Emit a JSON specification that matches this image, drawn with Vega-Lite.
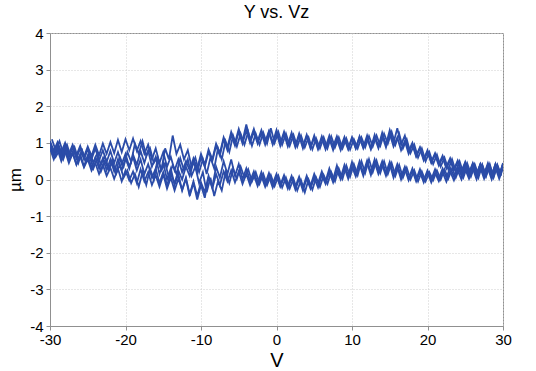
{
  "$schema": "https://vega.github.io/schema/vega-lite/v6.json",
  "width": 453,
  "height": 293,
  "autosize": "none",
  "padding": {"left": 50, "top": 33, "right": 33, "bottom": 45},
  "background": "white",
  "title": {"text": "Y vs. Vz", "fontSize": 18, "fontWeight": "normal", "font": "Liberation Sans", "color": "black", "offset": 4},
  "config": {
    "view": {"stroke": "#909090", "strokeWidth": 1},
    "axis": {
      "labelFont": "Liberation Sans", "labelFontSize": 15, "labelColor": "black",
      "labelExpr": "replace(datum.label, '\u2212', '-')",
      "titleFont": "Liberation Sans", "titleColor": "black", "titleFontWeight": "normal",
      "gridColor": "#cfcfcf", "gridDash": [1, 2], "gridWidth": 1,
      "domainColor": "#909090", "tickColor": "#909090", "tickSize": 4
    }
  },
  "data": {"values": [
{"s":"a","x":-30,"y":0.92},{"s":"a","x":-29.5,"y":0.66},{"s":"a","x":-29,"y":0.88},{"s":"a","x":-28.5,"y":0.60},{"s":"a","x":-28,"y":0.80},{"s":"a","x":-27.5,"y":0.52},{"s":"a","x":-27,"y":0.74},{"s":"a","x":-26.5,"y":0.42},{"s":"a","x":-26,"y":0.62},{"s":"a","x":-25.5,"y":0.33},{"s":"a","x":-25,"y":0.55},{"s":"a","x":-24.5,"y":0.24},{"s":"a","x":-24,"y":0.45},{"s":"a","x":-23.5,"y":0.15},{"s":"a","x":-23,"y":0.40},{"s":"a","x":-22.5,"y":0.10},{"s":"a","x":-22,"y":0.32},{"s":"a","x":-21.5,"y":0.02},{"s":"a","x":-21,"y":0.30},{"s":"a","x":-20.5,"y":-0.05},{"s":"a","x":-20,"y":0.25},{"s":"a","x":-19.5,"y":-0.02},{"s":"a","x":-19,"y":0.22},{"s":"a","x":-18.5,"y":-0.10},{"s":"a","x":-18,"y":0.28},{"s":"a","x":-17.5,"y":-0.05},{"s":"a","x":-17,"y":0.20},{"s":"a","x":-16.5,"y":-0.15},{"s":"a","x":-16,"y":0.12},{"s":"a","x":-15.5,"y":-0.20},{"s":"a","x":-15,"y":0.14},{"s":"a","x":-14.5,"y":-0.25},{"s":"a","x":-14,"y":0.05},{"s":"a","x":-13.5,"y":-0.30},{"s":"a","x":-13,"y":0.02},{"s":"a","x":-12.5,"y":-0.28},{"s":"a","x":-12,"y":0.05},{"s":"a","x":-11.5,"y":-0.40},{"s":"a","x":-11,"y":-0.05},{"s":"a","x":-10.5,"y":-0.45},{"s":"a","x":-10,"y":-0.08},{"s":"a","x":-9.5,"y":-0.35},{"s":"a","x":-9,"y":0.10},{"s":"a","x":-8.5,"y":-0.25},{"s":"a","x":-8,"y":0.15},{"s":"a","x":-7.5,"y":-0.15},{"s":"a","x":-7,"y":0.22},{"s":"a","x":-6.5,"y":-0.05},{"s":"a","x":-6,"y":0.25},{"s":"a","x":-5.5,"y":-0.08},{"s":"a","x":-5,"y":0.22},{"s":"a","x":-4.5,"y":-0.12},{"s":"a","x":-4,"y":0.15},{"s":"a","x":-3.5,"y":-0.15},{"s":"a","x":-3,"y":0.12},{"s":"a","x":-2.5,"y":-0.18},{"s":"a","x":-2,"y":0.10},{"s":"a","x":-1.5,"y":-0.20},{"s":"a","x":-1,"y":0.08},{"s":"a","x":-0.5,"y":-0.22},{"s":"a","x":0,"y":0.10},{"s":"a","x":0.5,"y":-0.20},{"s":"a","x":1,"y":0.05},{"s":"a","x":1.5,"y":-0.25},{"s":"a","x":2,"y":0.04},{"s":"a","x":2.5,"y":-0.28},{"s":"a","x":3,"y":0.02},{"s":"a","x":3.5,"y":-0.30},{"s":"a","x":4,"y":0.02},{"s":"a","x":4.5,"y":-0.25},{"s":"a","x":5,"y":0.05},{"s":"a","x":5.5,"y":-0.22},{"s":"a","x":6,"y":0.12},{"s":"a","x":6.5,"y":-0.12},{"s":"a","x":7,"y":0.20},{"s":"a","x":7.5,"y":-0.08},{"s":"a","x":8,"y":0.25},{"s":"a","x":8.5,"y":0.00},{"s":"a","x":9,"y":0.32},{"s":"a","x":9.5,"y":0.02},{"s":"a","x":10,"y":0.35},{"s":"a","x":10.5,"y":0.08},{"s":"a","x":11,"y":0.42},{"s":"a","x":11.5,"y":0.10},{"s":"a","x":12,"y":0.45},{"s":"a","x":12.5,"y":0.12},{"s":"a","x":13,"y":0.48},{"s":"a","x":13.5,"y":0.15},{"s":"a","x":14,"y":0.40},{"s":"a","x":14.5,"y":0.10},{"s":"a","x":15,"y":0.42},{"s":"a","x":15.5,"y":0.05},{"s":"a","x":16,"y":0.35},{"s":"a","x":16.5,"y":0.00},{"s":"a","x":17,"y":0.30},{"s":"a","x":17.5,"y":-0.02},{"s":"a","x":18,"y":0.25},{"s":"a","x":18.5,"y":-0.05},{"s":"a","x":19,"y":0.20},{"s":"a","x":19.5,"y":-0.08},{"s":"a","x":20,"y":0.20},{"s":"a","x":20.5,"y":-0.08},{"s":"a","x":21,"y":0.18},{"s":"a","x":21.5,"y":-0.05},{"s":"a","x":22,"y":0.20},{"s":"a","x":22.5,"y":-0.06},{"s":"a","x":23,"y":0.22},{"s":"a","x":23.5,"y":-0.02},{"s":"a","x":24,"y":0.25},{"s":"a","x":24.5,"y":0.00},{"s":"a","x":25,"y":0.28},{"s":"a","x":25.5,"y":0.02},{"s":"a","x":26,"y":0.30},{"s":"a","x":26.5,"y":0.00},{"s":"a","x":27,"y":0.32},{"s":"a","x":27.5,"y":0.02},{"s":"a","x":28,"y":0.30},{"s":"a","x":28.5,"y":0.00},{"s":"a","x":29,"y":0.32},{"s":"a","x":29.5,"y":0.02},{"s":"a","x":30,"y":0.30},
{"s":"b","x":-30,"y":1.05},{"s":"b","x":-29.5,"y":0.78},{"s":"b","x":-29,"y":1.02},{"s":"b","x":-28.5,"y":0.75},{"s":"b","x":-28,"y":1.00},{"s":"b","x":-27.5,"y":0.70},{"s":"b","x":-27,"y":0.95},{"s":"b","x":-26.5,"y":0.66},{"s":"b","x":-26,"y":0.92},{"s":"b","x":-25.5,"y":0.62},{"s":"b","x":-25,"y":0.90},{"s":"b","x":-24.5,"y":0.64},{"s":"b","x":-24,"y":0.95},{"s":"b","x":-23.5,"y":0.66},{"s":"b","x":-23,"y":0.98},{"s":"b","x":-22.5,"y":0.70},{"s":"b","x":-22,"y":1.02},{"s":"b","x":-21.5,"y":0.72},{"s":"b","x":-21,"y":1.08},{"s":"b","x":-20.5,"y":0.75},{"s":"b","x":-20,"y":1.10},{"s":"b","x":-19.5,"y":0.80},{"s":"b","x":-19,"y":1.12},{"s":"b","x":-18.5,"y":0.78},{"s":"b","x":-18,"y":1.05},{"s":"b","x":-17.5,"y":0.70},{"s":"b","x":-17,"y":0.95},{"s":"b","x":-16.5,"y":0.55},{"s":"b","x":-16,"y":0.85},{"s":"b","x":-15.5,"y":0.45},{"s":"b","x":-15,"y":0.75},{"s":"b","x":-14.5,"y":0.35},{"s":"b","x":-14,"y":0.62},{"s":"b","x":-13.5,"y":0.25},{"s":"b","x":-13,"y":0.55},{"s":"b","x":-12.5,"y":0.20},{"s":"b","x":-12,"y":0.50},{"s":"b","x":-11.5,"y":0.25},{"s":"b","x":-11,"y":0.58},{"s":"b","x":-10.5,"y":0.30},{"s":"b","x":-10,"y":0.70},{"s":"b","x":-9.5,"y":0.40},{"s":"b","x":-9,"y":0.82},{"s":"b","x":-8.5,"y":0.55},{"s":"b","x":-8,"y":0.98},{"s":"b","x":-7.5,"y":0.72},{"s":"b","x":-7,"y":1.15},{"s":"b","x":-6.5,"y":0.88},{"s":"b","x":-6,"y":1.30},{"s":"b","x":-5.5,"y":1.00},{"s":"b","x":-5,"y":1.38},{"s":"b","x":-4.5,"y":1.05},{"s":"b","x":-4,"y":1.50},{"s":"b","x":-3.5,"y":1.08},{"s":"b","x":-3,"y":1.38},{"s":"b","x":-2.5,"y":1.05},{"s":"b","x":-2,"y":1.35},{"s":"b","x":-1.5,"y":1.02},{"s":"b","x":-1,"y":1.32},{"s":"b","x":-0.5,"y":1.00},{"s":"b","x":0,"y":1.35},{"s":"b","x":0.5,"y":0.98},{"s":"b","x":1,"y":1.30},{"s":"b","x":1.5,"y":0.95},{"s":"b","x":2,"y":1.28},{"s":"b","x":2.5,"y":0.92},{"s":"b","x":3,"y":1.25},{"s":"b","x":3.5,"y":0.90},{"s":"b","x":4,"y":1.22},{"s":"b","x":4.5,"y":0.88},{"s":"b","x":5,"y":1.20},{"s":"b","x":5.5,"y":0.86},{"s":"b","x":6,"y":1.18},{"s":"b","x":6.5,"y":0.88},{"s":"b","x":7,"y":1.20},{"s":"b","x":7.5,"y":0.90},{"s":"b","x":8,"y":1.18},{"s":"b","x":8.5,"y":0.88},{"s":"b","x":9,"y":1.16},{"s":"b","x":9.5,"y":0.85},{"s":"b","x":10,"y":1.15},{"s":"b","x":10.5,"y":0.85},{"s":"b","x":11,"y":1.18},{"s":"b","x":11.5,"y":0.88},{"s":"b","x":12,"y":1.20},{"s":"b","x":12.5,"y":0.86},{"s":"b","x":13,"y":1.22},{"s":"b","x":13.5,"y":0.90},{"s":"b","x":14,"y":1.28},{"s":"b","x":14.5,"y":0.95},{"s":"b","x":15,"y":1.35},{"s":"b","x":15.5,"y":1.00},{"s":"b","x":16,"y":1.40},{"s":"b","x":16.5,"y":0.95},{"s":"b","x":17,"y":1.20},{"s":"b","x":17.5,"y":0.78},{"s":"b","x":18,"y":1.00},{"s":"b","x":18.5,"y":0.65},{"s":"b","x":19,"y":0.88},{"s":"b","x":19.5,"y":0.55},{"s":"b","x":20,"y":0.80},{"s":"b","x":20.5,"y":0.48},{"s":"b","x":21,"y":0.72},{"s":"b","x":21.5,"y":0.42},{"s":"b","x":22,"y":0.65},{"s":"b","x":22.5,"y":0.35},{"s":"b","x":23,"y":0.58},{"s":"b","x":23.5,"y":0.28},{"s":"b","x":24,"y":0.52},{"s":"b","x":24.5,"y":0.22},{"s":"b","x":25,"y":0.48},{"s":"b","x":25.5,"y":0.18},{"s":"b","x":26,"y":0.45},{"s":"b","x":26.5,"y":0.15},{"s":"b","x":27,"y":0.42},{"s":"b","x":27.5,"y":0.12},{"s":"b","x":28,"y":0.40},{"s":"b","x":28.5,"y":0.10},{"s":"b","x":29,"y":0.42},{"s":"b","x":29.5,"y":0.12},{"s":"b","x":30,"y":0.40},
{"s":"c","x":-30,"y":0.85},{"s":"c","x":-29.5,"y":0.55},{"s":"c","x":-29,"y":0.82},{"s":"c","x":-28.5,"y":0.50},{"s":"c","x":-28,"y":0.78},{"s":"c","x":-27.5,"y":0.45},{"s":"c","x":-27,"y":0.72},{"s":"c","x":-26.5,"y":0.40},{"s":"c","x":-26,"y":0.68},{"s":"c","x":-25.5,"y":0.36},{"s":"c","x":-25,"y":0.65},{"s":"c","x":-24.5,"y":0.32},{"s":"c","x":-24,"y":0.60},{"s":"c","x":-23.5,"y":0.30},{"s":"c","x":-23,"y":0.58},{"s":"c","x":-22.5,"y":0.25},{"s":"c","x":-22,"y":0.55},{"s":"c","x":-21.5,"y":0.22},{"s":"c","x":-21,"y":0.55},{"s":"c","x":-20.5,"y":0.25},{"s":"c","x":-20,"y":0.58},{"s":"c","x":-19.5,"y":0.30},{"s":"c","x":-19,"y":0.68},{"s":"c","x":-18.5,"y":0.40},{"s":"c","x":-18,"y":0.78},{"s":"c","x":-17.5,"y":0.45},{"s":"c","x":-17,"y":0.80},{"s":"c","x":-16.5,"y":0.35},{"s":"c","x":-16,"y":0.62},{"s":"c","x":-15.5,"y":0.15},{"s":"c","x":-15,"y":0.45},{"s":"c","x":-14.5,"y":0.00},{"s":"c","x":-14,"y":0.30},{"s":"c","x":-13.5,"y":-0.15},{"s":"c","x":-13,"y":0.15},{"s":"c","x":-12.5,"y":-0.30},{"s":"c","x":-12,"y":0.02},{"s":"c","x":-11.5,"y":-0.45},{"s":"c","x":-11,"y":-0.10},{"s":"c","x":-10.5,"y":-0.55},{"s":"c","x":-10,"y":-0.15},{"s":"c","x":-9.5,"y":-0.50},{"s":"c","x":-9,"y":0.05},{"s":"c","x":-8.5,"y":-0.20},{"s":"c","x":-8,"y":0.35},{"s":"c","x":-7.5,"y":0.05},{"s":"c","x":-7,"y":0.50},{"s":"c","x":-6.5,"y":0.15},{"s":"c","x":-6,"y":0.55},{"s":"c","x":-5.5,"y":0.10},{"s":"c","x":-5,"y":0.42},{"s":"c","x":-4.5,"y":0.00},{"s":"c","x":-4,"y":0.30},{"s":"c","x":-3.5,"y":-0.05},{"s":"c","x":-3,"y":0.22},{"s":"c","x":-2.5,"y":-0.10},{"s":"c","x":-2,"y":0.20},{"s":"c","x":-1.5,"y":-0.12},{"s":"c","x":-1,"y":0.18},{"s":"c","x":-0.5,"y":-0.12},{"s":"c","x":0,"y":0.15},{"s":"c","x":0.5,"y":-0.15},{"s":"c","x":1,"y":0.12},{"s":"c","x":1.5,"y":-0.18},{"s":"c","x":2,"y":0.10},{"s":"c","x":2.5,"y":-0.20},{"s":"c","x":3,"y":0.08},{"s":"c","x":3.5,"y":-0.22},{"s":"c","x":4,"y":0.10},{"s":"c","x":4.5,"y":-0.18},{"s":"c","x":5,"y":0.15},{"s":"c","x":5.5,"y":-0.10},{"s":"c","x":6,"y":0.22},{"s":"c","x":6.5,"y":-0.05},{"s":"c","x":7,"y":0.30},{"s":"c","x":7.5,"y":0.00},{"s":"c","x":8,"y":0.38},{"s":"c","x":8.5,"y":0.05},{"s":"c","x":9,"y":0.40},{"s":"c","x":9.5,"y":0.10},{"s":"c","x":10,"y":0.48},{"s":"c","x":10.5,"y":0.15},{"s":"c","x":11,"y":0.50},{"s":"c","x":11.5,"y":0.18},{"s":"c","x":12,"y":0.52},{"s":"c","x":12.5,"y":0.20},{"s":"c","x":13,"y":0.55},{"s":"c","x":13.5,"y":0.22},{"s":"c","x":14,"y":0.50},{"s":"c","x":14.5,"y":0.18},{"s":"c","x":15,"y":0.48},{"s":"c","x":15.5,"y":0.12},{"s":"c","x":16,"y":0.42},{"s":"c","x":16.5,"y":0.08},{"s":"c","x":17,"y":0.35},{"s":"c","x":17.5,"y":0.02},{"s":"c","x":18,"y":0.30},{"s":"c","x":18.5,"y":0.00},{"s":"c","x":19,"y":0.28},{"s":"c","x":19.5,"y":-0.02},{"s":"c","x":20,"y":0.25},{"s":"c","x":20.5,"y":0.00},{"s":"c","x":21,"y":0.28},{"s":"c","x":21.5,"y":0.02},{"s":"c","x":22,"y":0.30},{"s":"c","x":22.5,"y":0.05},{"s":"c","x":23,"y":0.32},{"s":"c","x":23.5,"y":0.08},{"s":"c","x":24,"y":0.35},{"s":"c","x":24.5,"y":0.10},{"s":"c","x":25,"y":0.38},{"s":"c","x":25.5,"y":0.10},{"s":"c","x":26,"y":0.40},{"s":"c","x":26.5,"y":0.12},{"s":"c","x":27,"y":0.42},{"s":"c","x":27.5,"y":0.15},{"s":"c","x":28,"y":0.45},{"s":"c","x":28.5,"y":0.12},{"s":"c","x":29,"y":0.42},{"s":"c","x":29.5,"y":0.10},{"s":"c","x":30,"y":0.45},
{"s":"d","x":-30,"y":1.00},{"s":"d","x":-29.5,"y":0.70},{"s":"d","x":-29,"y":0.95},{"s":"d","x":-28.5,"y":0.65},{"s":"d","x":-28,"y":0.92},{"s":"d","x":-27.5,"y":0.60},{"s":"d","x":-27,"y":0.88},{"s":"d","x":-26.5,"y":0.58},{"s":"d","x":-26,"y":0.85},{"s":"d","x":-25.5,"y":0.55},{"s":"d","x":-25,"y":0.82},{"s":"d","x":-24.5,"y":0.55},{"s":"d","x":-24,"y":0.85},{"s":"d","x":-23.5,"y":0.52},{"s":"d","x":-23,"y":0.80},{"s":"d","x":-22.5,"y":0.48},{"s":"d","x":-22,"y":0.78},{"s":"d","x":-21.5,"y":0.45},{"s":"d","x":-21,"y":0.75},{"s":"d","x":-20.5,"y":0.42},{"s":"d","x":-20,"y":0.70},{"s":"d","x":-19.5,"y":0.35},{"s":"d","x":-19,"y":0.62},{"s":"d","x":-18.5,"y":0.25},{"s":"d","x":-18,"y":0.55},{"s":"d","x":-17.5,"y":0.15},{"s":"d","x":-17,"y":0.42},{"s":"d","x":-16.5,"y":0.05},{"s":"d","x":-16,"y":0.30},{"s":"d","x":-15.5,"y":-0.10},{"s":"d","x":-15,"y":0.20},{"s":"d","x":-14.5,"y":-0.15},{"s":"d","x":-14,"y":0.15},{"s":"d","x":-13.5,"y":-0.10},{"s":"d","x":-13,"y":0.25},{"s":"d","x":-12.5,"y":0.00},{"s":"d","x":-12,"y":0.35},{"s":"d","x":-11.5,"y":0.10},{"s":"d","x":-11,"y":0.48},{"s":"d","x":-10.5,"y":0.20},{"s":"d","x":-10,"y":0.60},{"s":"d","x":-9.5,"y":0.35},{"s":"d","x":-9,"y":0.75},{"s":"d","x":-8.5,"y":0.50},{"s":"d","x":-8,"y":0.92},{"s":"d","x":-7.5,"y":0.65},{"s":"d","x":-7,"y":1.10},{"s":"d","x":-6.5,"y":0.80},{"s":"d","x":-6,"y":1.22},{"s":"d","x":-5.5,"y":0.92},{"s":"d","x":-5,"y":1.30},{"s":"d","x":-4.5,"y":0.98},{"s":"d","x":-4,"y":1.35},{"s":"d","x":-3.5,"y":1.00},{"s":"d","x":-3,"y":1.30},{"s":"d","x":-2.5,"y":0.98},{"s":"d","x":-2,"y":1.28},{"s":"d","x":-1.5,"y":0.95},{"s":"d","x":-1,"y":1.30},{"s":"d","x":-0.5,"y":0.95},{"s":"d","x":0,"y":1.28},{"s":"d","x":0.5,"y":0.92},{"s":"d","x":1,"y":1.25},{"s":"d","x":1.5,"y":0.90},{"s":"d","x":2,"y":1.22},{"s":"d","x":2.5,"y":0.88},{"s":"d","x":3,"y":1.20},{"s":"d","x":3.5,"y":0.85},{"s":"d","x":4,"y":1.18},{"s":"d","x":4.5,"y":0.85},{"s":"d","x":5,"y":1.15},{"s":"d","x":5.5,"y":0.82},{"s":"d","x":6,"y":1.12},{"s":"d","x":6.5,"y":0.82},{"s":"d","x":7,"y":1.12},{"s":"d","x":7.5,"y":0.80},{"s":"d","x":8,"y":1.10},{"s":"d","x":8.5,"y":0.80},{"s":"d","x":9,"y":1.10},{"s":"d","x":9.5,"y":0.82},{"s":"d","x":10,"y":1.12},{"s":"d","x":10.5,"y":0.85},{"s":"d","x":11,"y":1.15},{"s":"d","x":11.5,"y":0.85},{"s":"d","x":12,"y":1.12},{"s":"d","x":12.5,"y":0.82},{"s":"d","x":13,"y":1.15},{"s":"d","x":13.5,"y":0.85},{"s":"d","x":14,"y":1.20},{"s":"d","x":14.5,"y":0.88},{"s":"d","x":15,"y":1.25},{"s":"d","x":15.5,"y":0.90},{"s":"d","x":16,"y":1.15},{"s":"d","x":16.5,"y":0.80},{"s":"d","x":17,"y":1.05},{"s":"d","x":17.5,"y":0.70},{"s":"d","x":18,"y":0.95},{"s":"d","x":18.5,"y":0.62},{"s":"d","x":19,"y":0.85},{"s":"d","x":19.5,"y":0.52},{"s":"d","x":20,"y":0.75},{"s":"d","x":20.5,"y":0.45},{"s":"d","x":21,"y":0.68},{"s":"d","x":21.5,"y":0.38},{"s":"d","x":22,"y":0.60},{"s":"d","x":22.5,"y":0.30},{"s":"d","x":23,"y":0.52},{"s":"d","x":23.5,"y":0.25},{"s":"d","x":24,"y":0.48},{"s":"d","x":24.5,"y":0.20},{"s":"d","x":25,"y":0.45},{"s":"d","x":25.5,"y":0.15},{"s":"d","x":26,"y":0.42},{"s":"d","x":26.5,"y":0.12},{"s":"d","x":27,"y":0.40},{"s":"d","x":27.5,"y":0.10},{"s":"d","x":28,"y":0.38},{"s":"d","x":28.5,"y":0.08},{"s":"d","x":29,"y":0.38},{"s":"d","x":29.5,"y":0.10},{"s":"d","x":30,"y":0.42},
{"s":"e","x":-29.75,"y":0.90},{"s":"e","x":-29.25,"y":0.62},{"s":"e","x":-28.75,"y":0.80},{"s":"e","x":-28.25,"y":0.55},{"s":"e","x":-27.75,"y":0.85},{"s":"e","x":-27.25,"y":0.62},{"s":"e","x":-26.75,"y":0.75},{"s":"e","x":-26.25,"y":0.45},{"s":"e","x":-25.75,"y":0.78},{"s":"e","x":-25.25,"y":0.48},{"s":"e","x":-24.75,"y":0.62},{"s":"e","x":-24.25,"y":0.30},{"s":"e","x":-23.75,"y":0.58},{"s":"e","x":-23.25,"y":0.22},{"s":"e","x":-22.75,"y":0.50},{"s":"e","x":-22.25,"y":0.28},{"s":"e","x":-21.75,"y":0.45},{"s":"e","x":-21.25,"y":0.20},{"s":"e","x":-20.75,"y":0.62},{"s":"e","x":-20.25,"y":0.35},{"s":"e","x":-19.75,"y":0.75},{"s":"e","x":-19.25,"y":0.48},{"s":"e","x":-18.75,"y":0.98},{"s":"e","x":-18.25,"y":0.70},{"s":"e","x":-17.75,"y":1.05},{"s":"e","x":-17.25,"y":0.65},{"s":"e","x":-16.75,"y":0.85},{"s":"e","x":-16.25,"y":0.45},{"s":"e","x":-15.75,"y":0.62},{"s":"e","x":-15.25,"y":0.25},{"s":"e","x":-14.75,"y":0.45},{"s":"e","x":-14.25,"y":0.05},{"s":"e","x":-13.75,"y":0.40},{"s":"e","x":-13.25,"y":0.15},{"s":"e","x":-12.75,"y":0.58},{"s":"e","x":-12.25,"y":0.25},{"s":"e","x":-11.75,"y":0.55},{"s":"e","x":-11.25,"y":0.10},{"s":"e","x":-10.75,"y":0.35},{"s":"e","x":-10.25,"y":-0.10},{"s":"e","x":-9.75,"y":0.20},{"s":"e","x":-9.25,"y":-0.35},{"s":"e","x":-8.75,"y":0.05},{"s":"e","x":-8.25,"y":-0.45},{"s":"e","x":-7.75,"y":-0.05},{"s":"e","x":-7.25,"y":-0.30},{"s":"e","x":-6.75,"y":0.20},{"s":"e","x":-6.25,"y":-0.10},{"s":"e","x":-5.75,"y":0.30},{"s":"e","x":-5.25,"y":0.02},{"s":"e","x":-4.75,"y":0.35},{"s":"e","x":-4.25,"y":0.05},{"s":"e","x":-3.75,"y":0.28},{"s":"e","x":-3.25,"y":-0.05},{"s":"e","x":-2.75,"y":0.20},{"s":"e","x":-2.25,"y":-0.12},{"s":"e","x":-1.75,"y":0.15},{"s":"e","x":-1.25,"y":-0.15},{"s":"e","x":-0.75,"y":0.12},{"s":"e","x":-0.25,"y":-0.18},{"s":"e","x":0.25,"y":0.10},{"s":"e","x":0.75,"y":-0.22},{"s":"e","x":1.25,"y":0.05},{"s":"e","x":1.75,"y":-0.25},{"s":"e","x":2.25,"y":0.02},{"s":"e","x":2.75,"y":-0.30},{"s":"e","x":3.25,"y":-0.02},{"s":"e","x":3.75,"y":-0.35},{"s":"e","x":4.25,"y":0.00},{"s":"e","x":4.75,"y":-0.28},{"s":"e","x":5.25,"y":0.05},{"s":"e","x":5.75,"y":-0.20},{"s":"e","x":6.25,"y":0.12},{"s":"e","x":6.75,"y":-0.12},{"s":"e","x":7.25,"y":0.20},{"s":"e","x":7.75,"y":-0.05},{"s":"e","x":8.25,"y":0.30},{"s":"e","x":8.75,"y":0.02},{"s":"e","x":9.25,"y":0.38},{"s":"e","x":9.75,"y":0.08},{"s":"e","x":10.25,"y":0.42},{"s":"e","x":10.75,"y":0.12},{"s":"e","x":11.25,"y":0.50},{"s":"e","x":11.75,"y":0.18},{"s":"e","x":12.25,"y":0.55},{"s":"e","x":12.75,"y":0.20},{"s":"e","x":13.25,"y":0.52},{"s":"e","x":13.75,"y":0.18},{"s":"e","x":14.25,"y":0.50},{"s":"e","x":14.75,"y":0.15},{"s":"e","x":15.25,"y":0.45},{"s":"e","x":15.75,"y":0.10},{"s":"e","x":16.25,"y":0.40},{"s":"e","x":16.75,"y":0.05},{"s":"e","x":17.25,"y":0.32},{"s":"e","x":17.75,"y":0.00},{"s":"e","x":18.25,"y":0.25},{"s":"e","x":18.75,"y":-0.05},{"s":"e","x":19.25,"y":0.22},{"s":"e","x":19.75,"y":-0.05},{"s":"e","x":20.25,"y":0.20},{"s":"e","x":20.75,"y":-0.02},{"s":"e","x":21.25,"y":0.25},{"s":"e","x":21.75,"y":0.00},{"s":"e","x":22.25,"y":0.28},{"s":"e","x":22.75,"y":0.02},{"s":"e","x":23.25,"y":0.30},{"s":"e","x":23.75,"y":0.05},{"s":"e","x":24.25,"y":0.32},{"s":"e","x":24.75,"y":0.05},{"s":"e","x":25.25,"y":0.35},{"s":"e","x":25.75,"y":0.08},{"s":"e","x":26.25,"y":0.38},{"s":"e","x":26.75,"y":0.05},{"s":"e","x":27.25,"y":0.40},{"s":"e","x":27.75,"y":0.08},{"s":"e","x":28.25,"y":0.42},{"s":"e","x":28.75,"y":0.05},{"s":"e","x":29.25,"y":0.38},{"s":"e","x":29.75,"y":0.10},
{"s":"f","x":-29.75,"y":1.10},{"s":"f","x":-29.25,"y":0.80},{"s":"f","x":-28.75,"y":1.05},{"s":"f","x":-28.25,"y":0.72},{"s":"f","x":-27.75,"y":0.95},{"s":"f","x":-27.25,"y":0.62},{"s":"f","x":-26.75,"y":0.88},{"s":"f","x":-26.25,"y":0.55},{"s":"f","x":-25.75,"y":0.80},{"s":"f","x":-25.25,"y":0.50},{"s":"f","x":-24.75,"y":0.75},{"s":"f","x":-24.25,"y":0.45},{"s":"f","x":-23.75,"y":0.72},{"s":"f","x":-23.25,"y":0.40},{"s":"f","x":-22.75,"y":0.65},{"s":"f","x":-22.25,"y":0.30},{"s":"f","x":-21.75,"y":0.55},{"s":"f","x":-21.25,"y":0.15},{"s":"f","x":-20.75,"y":0.40},{"s":"f","x":-20.25,"y":0.05},{"s":"f","x":-19.75,"y":0.25},{"s":"f","x":-19.25,"y":-0.10},{"s":"f","x":-18.75,"y":0.15},{"s":"f","x":-18.25,"y":-0.20},{"s":"f","x":-17.75,"y":0.20},{"s":"f","x":-17.25,"y":-0.15},{"s":"f","x":-16.75,"y":0.30},{"s":"f","x":-16.25,"y":0.00},{"s":"f","x":-15.75,"y":0.55},{"s":"f","x":-15.25,"y":0.25},{"s":"f","x":-14.75,"y":0.85},{"s":"f","x":-14.25,"y":0.55},{"s":"f","x":-13.75,"y":1.20},{"s":"f","x":-13.25,"y":0.70},{"s":"f","x":-12.75,"y":0.95},{"s":"f","x":-12.25,"y":0.55},{"s":"f","x":-11.75,"y":0.80},{"s":"f","x":-11.25,"y":0.35},{"s":"f","x":-10.75,"y":0.60},{"s":"f","x":-10.25,"y":0.20},{"s":"f","x":-9.75,"y":0.55},{"s":"f","x":-9.25,"y":0.15},{"s":"f","x":-8.75,"y":0.60},{"s":"f","x":-8.25,"y":0.30},{"s":"f","x":-7.75,"y":0.85},{"s":"f","x":-7.25,"y":0.55},{"s":"f","x":-6.75,"y":1.05},{"s":"f","x":-6.25,"y":0.75},{"s":"f","x":-5.75,"y":1.20},{"s":"f","x":-5.25,"y":0.90},{"s":"f","x":-4.75,"y":1.25},{"s":"f","x":-4.25,"y":0.95},{"s":"f","x":-3.75,"y":1.30},{"s":"f","x":-3.25,"y":0.92},{"s":"f","x":-2.75,"y":1.25},{"s":"f","x":-2.25,"y":0.95},{"s":"f","x":-1.75,"y":1.28},{"s":"f","x":-1.25,"y":0.98},{"s":"f","x":-0.75,"y":1.40},{"s":"f","x":-0.25,"y":1.00},{"s":"f","x":0.25,"y":1.30},{"s":"f","x":0.75,"y":0.95},{"s":"f","x":1.25,"y":1.25},{"s":"f","x":1.75,"y":0.92},{"s":"f","x":2.25,"y":1.22},{"s":"f","x":2.75,"y":0.90},{"s":"f","x":3.25,"y":1.20},{"s":"f","x":3.75,"y":0.88},{"s":"f","x":4.25,"y":1.15},{"s":"f","x":4.75,"y":0.82},{"s":"f","x":5.25,"y":1.12},{"s":"f","x":5.75,"y":0.85},{"s":"f","x":6.25,"y":1.15},{"s":"f","x":6.75,"y":0.85},{"s":"f","x":7.25,"y":1.18},{"s":"f","x":7.75,"y":0.88},{"s":"f","x":8.25,"y":1.15},{"s":"f","x":8.75,"y":0.85},{"s":"f","x":9.25,"y":1.12},{"s":"f","x":9.75,"y":0.82},{"s":"f","x":10.25,"y":1.10},{"s":"f","x":10.75,"y":0.85},{"s":"f","x":11.25,"y":1.15},{"s":"f","x":11.75,"y":0.88},{"s":"f","x":12.25,"y":1.18},{"s":"f","x":12.75,"y":0.90},{"s":"f","x":13.25,"y":1.20},{"s":"f","x":13.75,"y":0.92},{"s":"f","x":14.25,"y":1.25},{"s":"f","x":14.75,"y":0.98},{"s":"f","x":15.25,"y":1.30},{"s":"f","x":15.75,"y":0.95},{"s":"f","x":16.25,"y":1.25},{"s":"f","x":16.75,"y":0.85},{"s":"f","x":17.25,"y":1.10},{"s":"f","x":17.75,"y":0.72},{"s":"f","x":18.25,"y":0.95},{"s":"f","x":18.75,"y":0.60},{"s":"f","x":19.25,"y":0.85},{"s":"f","x":19.75,"y":0.50},{"s":"f","x":20.25,"y":0.75},{"s":"f","x":20.75,"y":0.42},{"s":"f","x":21.25,"y":0.68},{"s":"f","x":21.75,"y":0.35},{"s":"f","x":22.25,"y":0.60},{"s":"f","x":22.75,"y":0.28},{"s":"f","x":23.25,"y":0.55},{"s":"f","x":23.75,"y":0.22},{"s":"f","x":24.25,"y":0.50},{"s":"f","x":24.75,"y":0.18},{"s":"f","x":25.25,"y":0.45},{"s":"f","x":25.75,"y":0.15},{"s":"f","x":26.25,"y":0.42},{"s":"f","x":26.75,"y":0.12},{"s":"f","x":27.25,"y":0.40},{"s":"f","x":27.75,"y":0.10},{"s":"f","x":28.25,"y":0.38},{"s":"f","x":28.75,"y":0.08},{"s":"f","x":29.25,"y":0.40},{"s":"f","x":29.75,"y":0.12}
  ]},
  "mark": {"type": "line", "color": "#2b4ca8", "strokeWidth": 1.8, "interpolate": "linear", "clip": true},
  "encoding": {
    "detail": {"field": "s", "type": "nominal"},
    "x": {"field": "x", "type": "quantitative", "scale": {"domain": [-30, 30], "nice": false},
      "axis": {"values": [-30, -20, -10, 0, 10, 20, 30], "title": "V", "titleFontSize": 20, "labelPadding": 2, "titlePadding": 3, "labelFlush": false}},
    "y": {"field": "y", "type": "quantitative", "scale": {"domain": [-4, 4], "nice": false},
      "axis": {"values": [-4, -3, -2, -1, 0, 1, 2, 3, 4], "title": "µm", "titleFontSize": 17, "titlePadding": 5, "labelPadding": 3}}
  }
}
